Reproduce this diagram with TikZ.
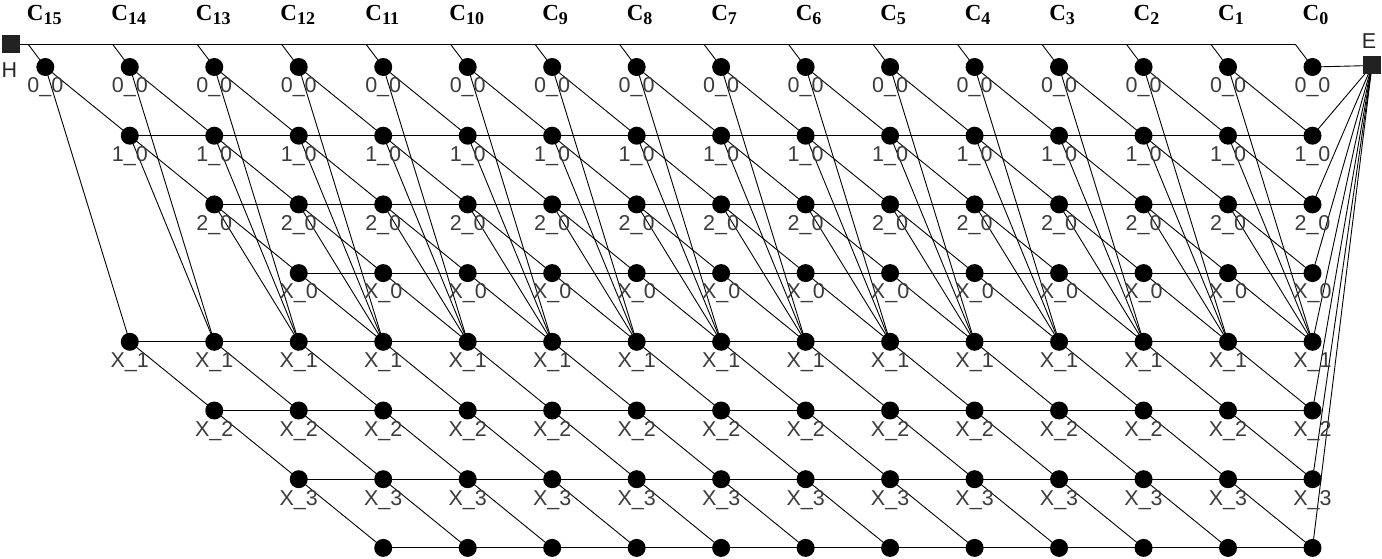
\documentclass[tikz,border=0pt]{standalone}
\usepackage{fontspec}
\setmainfont{Liberation Serif}
\newfontfamily\labfont{Liberation Sans}
\usetikzlibrary{backgrounds}
\definecolor{labgray}{HTML}{3C3C3C}
\definecolor{sqgray}{HTML}{222222}
\begin{document}
\begin{tikzpicture}[x=1pt,y=-1pt,
  dot/.style={circle,fill=black,inner sep=0pt,minimum size=18pt},
  sq/.style={rectangle,fill=sqgray,inner sep=0pt,minimum size=18pt},
  lab/.style={font=\labfont\fontsize{21.5}{22}\selectfont,text=labgray,inner sep=0pt},
  hdr/.style={font=\fontsize{23}{24}\selectfont\bfseries,inner sep=0pt},
  edge/.style={line width=0.9pt,black}]
\useasboundingbox (0,0) rectangle (1382,559);
% nodes of the lattice
\foreach \r/\s in {0/0,1/1,2/2,3/3,4/1,5/2,6/3,7/4}{
  \foreach \i in {\s,...,15}{
    \node[dot] (n-\r-\i) at ({45.3+84.48*\i},{67+68.7*\r}) {};
  }
}
% labels
\foreach \r/\s/\t in {0/0/0\_0,1/1/1\_0,2/2/2\_0,3/3/X\_0,4/1/X\_1,5/2/X\_2,6/3/X\_3}{
  \foreach \i in {\s,...,15}{
    \node[lab] (l-\r-\i) at ({45.3+84.48*\i},{67+68.7*\r+20.5}) {\t};
  }
}
% column headers
\foreach \i in {0,...,15}{
  \pgfmathtruncatemacro\k{15-\i}
  \pgfmathsetmacro\off{\k>9 ? -1 : 3}
  \node[hdr] (h-\i) at ({45.3+84.48*\i+\off},15) {C\raisebox{-4pt}{\fontsize{18}{18}\selectfont\k}};
}
% terminals
\node[sq] (H) at (11,44.5) {};
\node[lab,text=black!85] (Hl) at (9.5,70.5) {H};
\node[sq] (E) at (1372,65.5) {};
\node[lab,text=black!85] (El) at (1369,41) {E};
% top bus coordinates
\foreach \i in {0,...,15}{
  \coordinate (t-\i) at ({45.3+84.48*\i-17},44.5);
}
\begin{scope}[on background layer]
  \draw[edge] (H.center) -- (t-15);
  \foreach \i in {0,...,15}{
    \draw[edge] (t-\i) -- (n-0-\i.center);
  }
  % horizontal edges
  \foreach \r/\s in {1/1,2/2,3/3,4/1,5/2,6/3,7/4}{
    \foreach \i in {\s,...,14}{
      \pgfmathtruncatemacro\j{\i+1}
      \draw[edge] (n-\r-\i.center) -- (n-\r-\j.center);
    }
  }
  % diagonal edges
  \foreach \r/\s in {0/0,1/1,2/2,3/3,4/1,5/2,6/3}{
    \pgfmathtruncatemacro\q{\r+1}
    \foreach \i in {\s,...,14}{
      \pgfmathtruncatemacro\j{\i+1}
      \draw[edge] (n-\r-\i.center) -- (n-\q-\j.center);
    }
  }
  % steep edges to X_1
  \foreach \r/\s in {0/0,1/1,2/2}{
    \foreach \i in {\s,...,14}{
      \pgfmathtruncatemacro\j{\i+1}
      \draw[edge] (n-\r-\i.center) -- (n-4-\j.center);
    }
  }
  % edges to E
  \foreach \r in {0,...,7}{
    \draw[edge] (n-\r-15.center) -- (E.center);
  }
\end{scope}
\end{tikzpicture}
\end{document}
